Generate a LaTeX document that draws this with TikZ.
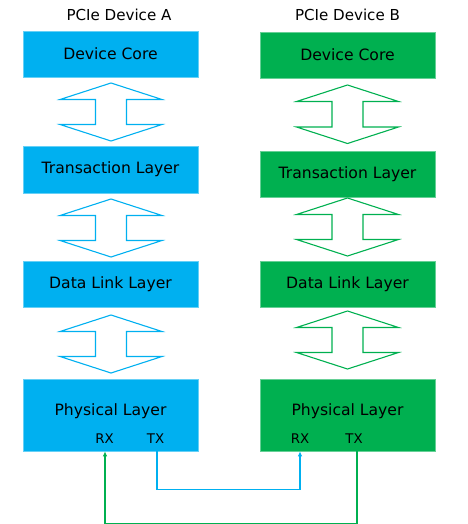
\documentclass[tikz,border=0pt]{standalone}
\usepackage{fontspec}
\setmainfont{DejaVu Sans}
\usetikzlibrary{arrows.meta}
\definecolor{pblue}{HTML}{00B0F0}
\definecolor{pgreen}{HTML}{00B050}
\newcommand\dblarr[4]{%
  \draw[#1,line width=1.1pt,line join=miter]
    ({#2},{#3}) -- ({#2+51},{#3+16.5}) -- ({#2+15.5},{#3+16.5}) -- ({#2+15.5},{#4-16.5})
    -- ({#2+51},{#4-16.5}) -- ({#2},{#4}) -- ({#2-51},{#4-16.5}) -- ({#2-15.5},{#4-16.5})
    -- ({#2-15.5},{#3+16.5}) -- ({#2-51},{#3+16.5}) -- cycle;}
\tikzset{
  layerA/.style={rectangle, fill=pblue, draw=pblue!60!white, line width=0.6pt,
    minimum width=175pt, inner sep=0pt, font=\fontsize{15.6}{18}\selectfont},
  layerB/.style={layerA, fill=pgreen, draw=pgreen!60!white},
  heading/.style={font=\fontsize{15.1}{17}\selectfont},
  port/.style={font=\fontsize{13.3}{15}\selectfont, inner sep=0pt},
  linkA/.style={pblue, line width=1.1pt, -{Latex[length=5pt,width=4.5pt]}},
  linkB/.style={pgreen, line width=1.1pt, -{Latex[length=5pt,width=4.5pt]}},
}
\begin{document}
\begin{tikzpicture}[x=1pt,y=-1pt]
\useasboundingbox (0,0) rectangle (467,524);
% headings
\node[heading] (hA) at (119,15) {PCIe Device A};
\node[heading] (hB) at (347.5,15) {PCIe Device B};
% device A
\node[layerA, minimum height=46pt] (dcA) at (110.5,54) {Device Core};
\node[layerA, minimum height=47pt] (tlA) at (110.5,169.5) {Transaction Layer};
\node[layerA, minimum height=46pt] (dlA) at (110.5,284) {Data Link Layer};
\node[layerA, minimum height=72pt] (plA) at (110.5,415) {};
% device B
\node[layerB, minimum height=46pt] (dcB) at (347.5,55) {Device Core};
\node[layerB, minimum height=46pt] (tlB) at (347.5,174) {Transaction Layer};
\node[layerB, minimum height=46pt] (dlB) at (347.5,284) {Data Link Layer};
\node[layerB, minimum height=72pt] (plB) at (347.5,415) {};
% physical layer texts
\node[font=\fontsize{15.6}{18}\selectfont] (plAt) at (110.5,411) {Physical Layer};
\node[font=\fontsize{15.6}{18}\selectfont] (plBt) at (347.5,411) {Physical Layer};
\node[port] (rxA) at (104.5,439) {RX};
\node[port] (txA) at (155.5,439) {TX};
\node[port] (rxB) at (300,439) {RX};
\node[port] (txB) at (354,439) {TX};
% double arrows
\dblarr{pblue}{111}{83}{141}
\dblarr{pblue}{111}{199}{257}
\dblarr{pblue}{111}{315}{373}
\dblarr{pgreen}{347.5}{85}{143.5}
\dblarr{pgreen}{347.5}{198}{256}
\dblarr{pgreen}{347.5}{311}{369}
% links
\coordinate (txAo) at (157,0);
\coordinate (rxBi) at (300,0);
\coordinate (txBo) at (357,0);
\coordinate (rxAi) at (105,0);
\draw[linkA] (txAo |- plA.south) -- ++(0,38) -| (rxBi |- plB.south);
\draw[linkB] (txBo |- plB.south) -- ++(0,72) -| (rxAi |- plA.south);
\end{tikzpicture}
\end{document}
